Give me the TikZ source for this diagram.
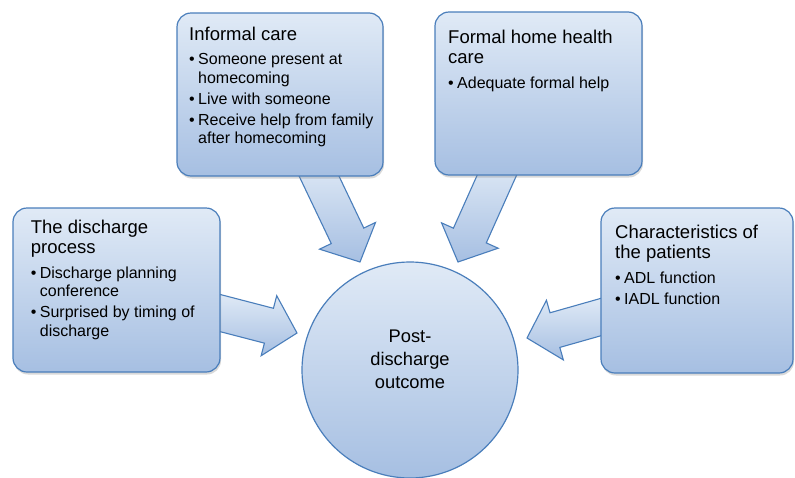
\documentclass[tikz,border=0pt]{standalone}
\usepackage{fontspec}
\setmainfont{Liberation Sans}
\usetikzlibrary{calc,shadows}
\pgfdeclarelayer{background}
\pgfsetlayers{background,main}
\definecolor{bordc}{HTML}{4A7EBB}
\definecolor{lightc}{HTML}{E0EAF6}
\definecolor{darkc}{HTML}{A6BFE2}
\newcommand{\ttl}[1]{{\fontsize{18.5}{20.5}\selectfont #1\par}\vspace{3.5pt}}
\newcommand{\bul}[1]{\vspace{2.5pt}{\fontsize{16}{18.5}\selectfont\hangindent=9pt\hangafter=1\noindent\makebox[9pt][l]{\textbullet}#1\par}}
\newcommand{\barrow}[2]{%
  \coordinate (#1b) at ($(#2)!29pt!(#1)$);
  \path[arrowshape] ($(#1)!18pt!90:(#2)$) -- ($(#1b)!18pt!90:(#2)$) -- ($(#1b)!31pt!90:(#2)$) -- (#2)
    -- ($(#1b)!31pt!-90:(#2)$) -- ($(#1b)!18pt!-90:(#2)$) -- ($(#1)!18pt!-90:(#2)$) -- cycle;}
\begin{document}
\begin{tikzpicture}[x=1pt,y=-1pt,
  box/.style={draw=bordc, line width=1.2pt, rounded corners=14pt, top color=lightc, bottom color=darkc,
    drop shadow={opacity=0.3, shadow xshift=1pt, shadow yshift=-2.5pt}, inner sep=0pt},
  boxtext/.style={anchor=base west, inner sep=0pt},
  arrowshape/.style={draw=bordc, line width=1.1pt, line join=miter, top color=lightc, bottom color=darkc},
  outc/.style={circle, draw=bordc, line width=1.2pt, top color=lightc, bottom color=darkc,
    minimum size=216pt, inner sep=0pt}]
\useasboundingbox (0,0) rectangle (795,477);
% boxes
\node[box, minimum width=206pt, minimum height=163pt] (inf) at (280,94.5) {};
\node[box, minimum width=207pt, minimum height=163pt] (fhc) at (538.5,93.5) {};
\node[box, minimum width=207pt, minimum height=164pt] (dis) at (116.5,290) {};
\node[box, minimum width=192pt, minimum height=165pt] (chr) at (697,290.5) {};
\node[outc] (out) at (410,370) {};
\node[align=center, font=\fontsize{18.3}{23}\selectfont, anchor=base] (outt) at (410,388) {Post-\\discharge\\outcome};
% texts
\node[boxtext] (inft) at (189,40) {\parbox[t]{190pt}{\raggedright
  \ttl{Informal care}
  \bul{Someone present at\newline homecoming}
  \bul{Live with someone}
  \bul{Receive help from family\newline after homecoming}}};
\node[boxtext] (fhct) at (448,43) {\parbox[t]{190pt}{\raggedright
  \ttl{Formal home health\\care}
  \bul{Adequate formal help}}};
\node[boxtext] (dist) at (30.7,233) {\parbox[t]{190pt}{\raggedright
  \ttl{The discharge\\process}
  \bul{Discharge planning\newline conference}
  \bul{Surprised by timing of\newline discharge}}};
\node[boxtext] (chrt) at (615,238) {\parbox[t]{175pt}{\raggedright
  \ttl{Characteristics of\\the patients}
  \bul{ADL function}
  \bul{IADL function}}};
% arrows
\coordinate (a1) at (314.7,167);
\coordinate (t1) at (360,262);
\coordinate (a2) at (501,166);
\coordinate (t2) at (458,262);
\coordinate (a3) at (210.3,310.5);
\coordinate (t3) at (297,333);
\coordinate (a4) at (610.6,314.3);
\coordinate (t4) at (527,338);
\begin{pgfonlayer}{background}
\barrow{a1}{t1}
\barrow{a2}{t2}
\barrow{a3}{t3}
\barrow{a4}{t4}
\end{pgfonlayer}
\end{tikzpicture}
\end{document}
